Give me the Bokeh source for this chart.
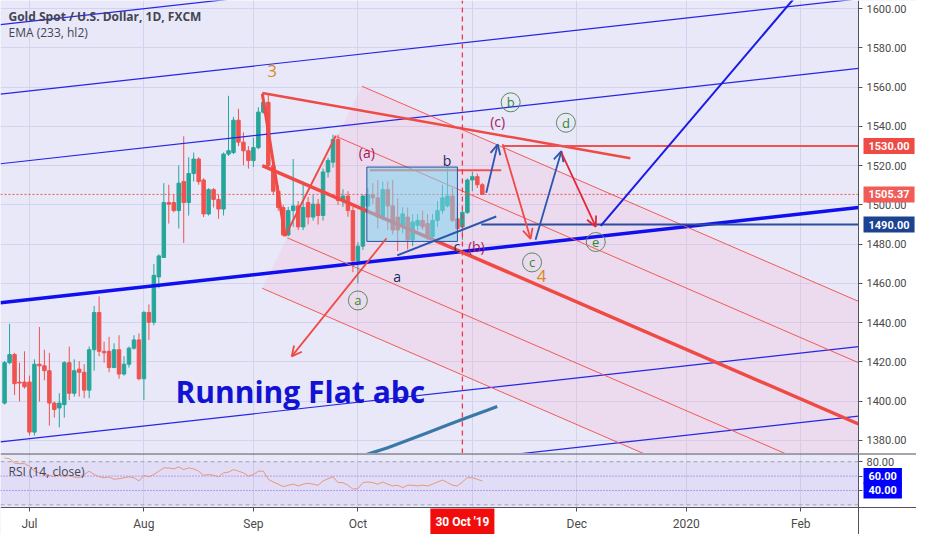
from bokeh.plotting import figure
from bokeh.models import (Range1d, FixedTicker, NumeralTickFormatter, Label, Arrow,
                          OpenHead, Span, ColumnDataSource, Grid, BoxAnnotation, LinearAxis)
from bokeh.layouts import column
from bokeh.embed import file_html
from bokeh.resources import INLINE
from bokeh.core.properties import value

# ---------------- data (bar index 0 = 1 Jul 2019, trading days) ----------------
bar_index = list(range(-5, 92))
open_ = [1399.0, 1419.6, 1423.7, 1409.7, 1409.7, 1409.7, 1384.2, 1418.8, 1418.0, 1415.5,
         1399.0, 1396.5, 1398.2, 1419.6, 1404.0, 1416.3, 1414.7, 1405.6, 1426.2, 1445.2,
         1425.4, 1425.4, 1417.1, 1426.2, 1413.8, 1418.8, 1427.0, 1431.2, 1411.4, 1445.2,
         1440.2, 1463.3, 1473.2, 1501.2, 1501.2, 1497.1, 1511.9, 1501.2, 1516.0, 1523.4,
         1512.7, 1495.4, 1507.8, 1502.8, 1497.9, 1525.9, 1526.7, 1543.2, 1532.0, 1527.6,
         1522.6, 1529.2, 1547.3, 1552.3, 1520.0, 1507.0, 1498.7, 1484.7, 1497.1, 1499.5,
         1488.8, 1501.2, 1493.8, 1500.4, 1494.6, 1516.8, 1521.8, 1533.3, 1502.3, 1504.5,
         1497.1, 1471.5, 1479.0, 1499.5, 1505.3, 1503.6, 1493.8, 1507.8, 1499.5, 1493.8,
         1488.8, 1493.8, 1482.2, 1489.6, 1492.1, 1490.5, 1483.9, 1492.1, 1497.1, 1499.5,
         1504.5, 1492.9, 1488.8, 1496.2, 1512.7, 1514.4, 1510.3]
high = [1420.4, 1439.4, 1424.6, 1419.6, 1425.4, 1413.0, 1421.3, 1437.8, 1426.2, 1424.6,
        1399.8, 1404.0, 1420.4, 1427.8, 1421.3, 1420.4, 1418.8, 1427.8, 1448.5, 1453.4,
        1430.3, 1432.8, 1429.5, 1433.6, 1422.9, 1427.8, 1433.6, 1434.5, 1446.0, 1449.3,
        1469.9, 1474.8, 1511.1, 1510.3, 1505.3, 1520.2, 1535.0, 1524.3, 1526.7, 1524.3,
        1513.6, 1508.6, 1508.6, 1505.3, 1526.7, 1555.6, 1544.9, 1549.0, 1537.0, 1530.0,
        1534.2, 1549.8, 1556.7, 1556.0, 1524.0, 1510.0, 1500.0, 1499.0, 1523.4, 1502.0,
        1511.9, 1504.0, 1505.0, 1503.0, 1518.5, 1524.0, 1535.8, 1535.8, 1508.0, 1507.0,
        1499.0, 1481.0, 1505.3, 1508.6, 1511.1, 1512.7, 1511.9, 1511.9, 1512.7, 1503.6,
        1498.7, 1498.7, 1495.4, 1495.4, 1497.1, 1495.4, 1495.4, 1502.0, 1510.3, 1518.5,
        1508.6, 1498.7, 1498.7, 1513.6, 1516.9, 1516.0, 1511.1]
low = [1398.2, 1418.8, 1403.1, 1399.8, 1406.4, 1382.5, 1382.5, 1399.8, 1410.6, 1387.5,
       1391.6, 1386.6, 1391.6, 1400.6, 1402.3, 1402.3, 1401.5, 1401.5, 1415.5, 1422.9,
       1419.6, 1414.7, 1417.1, 1411.4, 1413.0, 1417.1, 1426.2, 1410.6, 1400.6, 1431.2,
       1438.6, 1457.5, 1473.2, 1490.5, 1496.2, 1488.0, 1480.6, 1494.6, 1511.9, 1510.3,
       1493.8, 1494.6, 1498.7, 1492.9, 1494.6, 1525.0, 1525.9, 1530.0, 1520.2, 1518.5,
       1519.3, 1528.4, 1546.5, 1518.0, 1505.0, 1497.0, 1484.0, 1484.0, 1488.8, 1487.2,
       1487.2, 1490.0, 1492.0, 1490.0, 1492.0, 1514.0, 1519.0, 1500.0, 1499.0, 1494.0,
       1465.7, 1460.0, 1477.0, 1496.2, 1500.4, 1488.0, 1492.1, 1487.2, 1485.0, 1476.5,
       1485.5, 1477.3, 1479.0, 1487.2, 1487.2, 1482.2, 1482.2, 1488.8, 1495.4, 1498.7,
       1491.3, 1487.2, 1482.2, 1495.4, 1507.0, 1508.6, 1505.0]
close = [1419.6, 1423.7, 1408.9, 1409.2, 1407.3, 1384.2, 1418.8, 1418.0, 1415.5, 1399.0,
         1395.7, 1399.0, 1419.6, 1404.0, 1415.5, 1414.7, 1405.6, 1426.2, 1445.2, 1425.4,
         1424.6, 1417.1, 1426.2, 1413.8, 1418.8, 1427.0, 1431.2, 1411.4, 1445.2, 1440.2,
         1464.1, 1474.0, 1501.2, 1500.4, 1497.1, 1511.1, 1501.2, 1516.0, 1523.4, 1511.9,
         1495.4, 1507.8, 1502.8, 1497.9, 1525.9, 1527.6, 1543.2, 1532.0, 1527.6, 1522.6,
         1529.2, 1547.3, 1552.3, 1520.0, 1507.0, 1498.7, 1484.7, 1497.1, 1499.5, 1488.8,
         1498.7, 1493.8, 1500.4, 1494.6, 1516.8, 1522.6, 1533.3, 1502.3, 1504.5, 1497.1,
         1471.5, 1479.0, 1504.5, 1505.3, 1503.6, 1493.8, 1507.8, 1499.5, 1487.2, 1487.2,
         1495.4, 1482.2, 1491.3, 1492.1, 1488.8, 1483.9, 1492.1, 1497.1, 1503.6, 1504.5,
         1492.1, 1488.0, 1496.2, 1512.7, 1514.4, 1510.3, 1505.37]
rsi = [85, 84.2, 78, 77.3, 77.3, 73.6, 66.8, 64.5, 62.3, 61,
       59, 62.3, 59, 61, 58.6, 57.7, 62.3, 66.8, 62.3, 59,
       57.7, 58.6, 55.5, 56.3, 57.7, 59, 57.7, 53.2, 61, 59,
       62.3, 66.8, 71.3, 71.3, 70, 72.7, 69.1, 71.3, 70, 66.8,
       61, 62.3, 61, 59, 64.5, 65.5, 69.1, 66.8, 64.5, 60,
       62.3, 66.8, 66.8, 55.5, 51.8, 48.7, 45.4, 47.3, 48.7, 46.3,
       48.7, 50, 48.7, 47.3, 53.2, 56.3, 59, 50.9, 50.9, 47.3,
       41.8, 42.7, 50.9, 51.8, 50.9, 48.7, 51.8, 48.7, 46.3, 47.3,
       44, 47.3, 47.3, 46.3, 47.3, 46.3, 48.7, 51.8, 54.5, 50.9,
       47.3, 46.3, 51.8, 57.7, 57.7, 55.5, 53.2]
ema_bar = [66, 68, 72, 76, 80, 84, 88, 92, 94]
ema_val = [1371.0, 1373.0, 1376.2, 1380.1, 1383.9, 1387.8, 1391.7, 1395.4, 1397.3]

month_ticks = [0, 23, 45, 66, 110, 132, 155]
month_labels = ["Jul", "Aug", "Sep", "Oct", "Dec", "2020", "Feb"]
grid_ticks = [0, 23, 45, 66, 89, 110, 132, 155]
price_ticks = [1380, 1400, 1420, 1440, 1460, 1480, 1500, 1520, 1540, 1560, 1580, 1600]
rsi_ticks = [80, 60, 40]

last_price = 1505.37
level_hi = 1530.0
level_lo = 1490.0
cursor_bar = 87

# visible window
X0, X1 = -5.82, 166.6          # chart area in bars
P0, P1 = 1373.3, 1604.2        # price pane
R0, R1 = 16.3, 91.4            # RSI pane

# ---------------- drawings (bar, price anchors) ----------------
channel_thin = [((X0, 1591.9), (X1, 1640.49)), ((X0, 1556.45), (X1, 1605.04)),
                ((X0, 1521.0), (X1, 1569.59)), ((X0, 1379.2), (X1, 1427.79)),
                ((X0, 1343.75), (X1, 1392.34))]
channel_mid = ((X0, 1450.1), (X1, 1498.69))
fork_thin = [((66.82, 1560.5), (X1, 1450.84)), ((61.81, 1534.75), (X1, 1419.58)),
             ((51.8, 1483.25), (X1, 1357.09)), ((46.79, 1457.5), (X1, 1325.83))]
fork_median = ((46.79, 1520.0), (X1, 1388.33))
fork_area_x = [66.82, X1, X1, 46.79]
fork_area_y = [1560.5, 1450.84, 1325.83, 1457.5]
peak_trend = ((46.79, 1557.0), (120.75, 1523.8))
wave_down = ((46.79, 1556.7), (51.38, 1484.0))
wave_up = ((51.38, 1484.0), (61.57, 1535.3))
b_level = ((68.4, 1517.7), (94.8, 1517.7))
box_rect = (67.8, 86.0, 1481.4, 1519.3)
blue_a_line = ((73.9, 1474.3), (93.8, 1494.1))
big_blue = ((114.8, 1489.3), (156.0, 1612.3))
arrows = [((71.75, 1483.0), (52.7, 1422.8), "#f04a45"),
          ((91.8, 1506.2), (94.1, 1530.9), "#2b56b0"),
          ((95.1, 1530.9), (100.7, 1482.7), "#f04a45"),
          ((101.7, 1482.2), (106.9, 1527.4), "#2b56b0"),
          ((106.9, 1526.7), (113.8, 1488.9), "#e0283a")]
wave_text = ["3", "4"]
wave_x = [48.76, 102.9]
wave_y = [1568.1, 1463.7]
sub_text = ["(a)", "(c)", "(b)"]
sub_x = [67.8, 94.1, 89.8]
sub_y = [1526.7, 1542.4, 1479.0]
abc_text = ["b", "c", "a"]
abc_x = [83.9, 85.9, 73.9]
abc_y = [1522.6, 1479.0, 1463.6]
circ_text = ["a", "b", "c", "d", "e"]
circ_x = [66.0, 96.7, 101.0, 107.8, 113.8]
circ_y = [1451.3, 1552.3, 1470.7, 1541.9, 1481.1]

# ---------------- style ----------------
BG = "#e8e8f9"
GRID = "#d3d3ee"
UP = "#26a69a"
DOWN = "#ef5350"
AXC = "#50535e"
TXT = "#4a4a4a"
FONT = "Open Sans"
FW, HM, HR, RB, BB = 858, 453, 54, 58, 27
FULLW = FW + RB
XEND = X1 + RB * (X1 - X0) / FW           # right price-scale column, same scale
REND = R0 - BB * (R1 - R0) / HR           # time-scale strip below RSI, same scale

xr = Range1d(X0, XEND)


def style_axis(a, size="11px"):
    a.major_label_text_font = "Roboto"
    a.major_label_text_font_size = size
    a.major_label_text_color = TXT
    a.major_tick_out = 4
    a.major_tick_in = 0
    a.minor_tick_out = 0
    a.minor_tick_in = 0
    a.axis_line_color = AXC
    a.major_tick_line_color = AXC
    a.major_label_standoff = 4


def tag(fig, y, text, color, pad=(5, 4), size="11px"):
    fig.add_layout(Label(x=X1, y=y, text=text, x_offset=5, text_align="left",
                         text_baseline="middle", text_color="white", text_font="Roboto",
                         text_font_size=size, text_font_style="bold",
                         background_fill_color=color, padding=pad))


p = figure(x_range=xr, y_range=Range1d(P0, P1), frame_width=FULLW, frame_height=HM,
           x_axis_location=None, y_axis_location=None, toolbar_location=None,
           output_backend="svg", background_fill_color=BG, border_fill_color="white",
           outline_line_color=None, min_border_left=0, min_border_right=0,
           min_border_top=0, min_border_bottom=0)
p.grid.visible = False
p.add_layout(Grid(dimension=0, ticker=FixedTicker(ticks=grid_ticks), grid_line_color=GRID))
p.add_layout(Grid(dimension=1, ticker=FixedTicker(ticks=price_ticks), grid_line_color=GRID))
p.add_layout(BoxAnnotation(left=X1, fill_color="white", fill_alpha=1.0, line_color=None,
                           level="underlay"))

ax = LinearAxis(fixed_location=X1, ticker=FixedTicker(ticks=price_ticks),
                formatter=NumeralTickFormatter(format="0.00"))
style_axis(ax)
p.add_layout(ax, "right")

# pitchfork shading
p.patch(fork_area_x, fork_area_y, fill_color="#ffa8c4", fill_alpha=0.2, line_color=None)

# candles
src = ColumnDataSource(dict(
    x=bar_index, o=open_, h=high, l=low, c=close,
    top=[max(a, b) for a, b in zip(open_, close)],
    bot=[min(a, b) for a, b in zip(open_, close)],
    col=[UP if c >= o else DOWN for o, c in zip(open_, close)]))
p.segment(x0="x", y0="h", x1="x", y1="l", color="col", line_width=1, source=src)
p.vbar(x="x", top="top", bottom="bot", width=0.7, fill_color="col", line_color="col",
       source=src)

# EMA
p.line(ema_bar, ema_val, line_color="#3a78a8", line_width=3.2)

# blue channel
for (a, b) in channel_thin:
    p.line([a[0], b[0]], [a[1], b[1]], line_color="#2626e4", line_width=1.2)
p.line([channel_mid[0][0], channel_mid[1][0]], [channel_mid[0][1], channel_mid[1][1]],
       line_color="#0f0ff0", line_width=3.5)

# pitchfork lines
for (a, b) in fork_thin:
    p.line([a[0], b[0]], [a[1], b[1]], line_color="#f25a55", line_width=1)
p.line([fork_median[0][0], fork_median[1][0]], [fork_median[0][1], fork_median[1][1]],
       line_color="#f04a45", line_width=3.5)

# red wave lines
p.line([peak_trend[0][0], peak_trend[1][0]], [peak_trend[0][1], peak_trend[1][1]],
       line_color="#f04a45", line_width=2.5)
p.line([wave_down[0][0], wave_down[1][0]], [wave_down[0][1], wave_down[1][1]],
       line_color="#f04a45", line_width=3)
p.line([wave_up[0][0], wave_up[1][0]], [wave_up[0][1], wave_up[1][1]],
       line_color="#f04a45", line_width=2)

# levels
p.line([X0, X1], [last_price, last_price], line_color="#ef5350", line_width=1,
       line_dash="2 2")
p.line([90.8, X1], [level_lo, level_lo], line_color="#2b4f9e", line_width=2)
p.line([95.1, X1], [level_hi, level_hi], line_color="#f0534f", line_width=2)
p.line([b_level[0][0], b_level[1][0]], [b_level[0][1], b_level[1][1]],
       line_color="#f0534f", line_width=2)

# rectangle
p.quad(left=[box_rect[0]], right=[box_rect[1]], bottom=[box_rect[2]], top=[box_rect[3]],
       fill_color="#7fd4ee", fill_alpha=0.55, line_color="#2a4f9a", line_width=1)

# blue lines
p.line([blue_a_line[0][0], blue_a_line[1][0]], [blue_a_line[0][1], blue_a_line[1][1]],
       line_color="#2b56b0", line_width=2)
p.line([big_blue[0][0], big_blue[1][0]], [big_blue[0][1], big_blue[1][1]],
       line_color="#1a1ae6", line_width=2)

for (a, b, colr) in arrows:
    p.add_layout(Arrow(end=OpenHead(size=10, line_color=colr, line_width=1.8),
                       x_start=a[0], y_start=a[1], x_end=b[0], y_end=b[1],
                       line_color=colr, line_width=1.8))

p.line([cursor_bar, cursor_bar], [P0, P1], line_color="#f23645", line_dash="5 4",
       line_width=1.3)

# texts
p.text(wave_x, wave_y, text=wave_text, text_font=value(FONT), text_font_size="17px",
       text_color="#d98a1c", text_align="center", text_baseline="middle")
p.text(sub_x, sub_y, text=sub_text, text_font=value(FONT), text_font_size="14px",
       text_color="#a8175a", text_align="center", text_baseline="middle")
p.text(abc_x, abc_y, text=abc_text, text_font=value(FONT), text_font_size="14px",
       text_color="#1b2a5c", text_align="center", text_baseline="middle")
p.scatter(circ_x, circ_y, marker="circle", size=19, fill_color=None,
          line_color="#5b8a5b", line_width=1)
p.text(circ_x, circ_y, text=circ_text, text_font=value(FONT), text_font_size="13px",
       text_color="#2e8b2e", text_align="center", text_baseline="middle")
p.text([29.35], [1404.9], text=["Running Flat abc"], text_font=value(FONT),
       text_font_size="30px", text_font_style="bold", text_color="#1212d2",
       text_align="left", text_baseline="alphabetic")

p.add_layout(Label(x=X0, y=P1, x_offset=8, y_offset=-16,
                   text="Gold Spot / U.S. Dollar, 1D, FXCM", text_font=FONT,
                   text_font_size="12px", text_font_style="bold", text_color="#434651",
                   text_baseline="middle"))
p.add_layout(Label(x=X0, y=P1, x_offset=8, y_offset=-32,
                   text="EMA (233, hl2)", text_font=FONT, text_font_size="12px",
                   text_color="#434651", text_baseline="middle"))

tag(p, level_hi, "1530.00", "#f04a45")
tag(p, last_price, "1505.37", "#f25c58")
tag(p, level_lo, "1490.00", "#1c4292")

# ---------------- RSI pane + time scale ----------------
r = figure(x_range=xr, y_range=Range1d(REND, R1), frame_width=FULLW, frame_height=HR + BB,
           x_axis_location=None, y_axis_location=None, toolbar_location=None,
           output_backend="svg", background_fill_color=BG, border_fill_color="white",
           outline_line_color=None, min_border_left=0, min_border_right=0,
           min_border_top=0, min_border_bottom=0)
r.grid.visible = False
r.add_layout(Grid(dimension=0, ticker=FixedTicker(ticks=grid_ticks), grid_line_color=GRID))
r.add_layout(BoxAnnotation(left=X1, fill_color="white", fill_alpha=1.0, line_color=None,
                           level="underlay"))
r.add_layout(BoxAnnotation(top=R0, fill_color="white", fill_alpha=1.0, line_color=None,
                           level="underlay"))
r.add_layout(BoxAnnotation(bottom=20, top=80, right=X1, fill_color="#a070e8",
                           fill_alpha=0.09, line_color=None))
r.line([X0, X1], [80, 80], line_color="#a4a4b0", line_dash="4 3", line_width=1)
r.line([X0, X1], [20, 20], line_color="#a4a4b0", line_dash="4 3", line_width=1)
r.line([X0, X1], [60, 60], line_color="#7a5ce0", line_dash="1 2", line_width=1)
r.line([X0, X1], [40, 40], line_color="#7a5ce0", line_dash="1 2", line_width=1)
r.line(bar_index, rsi, line_color="#f29b6c", line_width=1)
r.add_layout(Span(location=R1, dimension="width", line_color=AXC, line_width=2))

ry = LinearAxis(fixed_location=X1, ticker=FixedTicker(ticks=rsi_ticks),
                formatter=NumeralTickFormatter(format="0.00"))
style_axis(ry)
r.add_layout(ry, "right")

rx = LinearAxis(fixed_location=R0, ticker=FixedTicker(ticks=month_ticks),
                major_label_overrides={t: s for t, s in zip(month_ticks, month_labels)})
style_axis(rx, "12px")
rx.major_label_standoff = 5
r.add_layout(rx, "below")

r.add_layout(Label(x=X0, y=66.8, x_offset=8, text="RSI (14, close)", text_font=FONT,
                   text_font_size="12px", text_color="#434651", text_baseline="middle"))
tag(r, 60, "60.00", "#0000ff", pad=(5, 4))
tag(r, 40, "40.00", "#0000ff", pad=(5, 4))
r.add_layout(Label(x=cursor_bar, y=R0, y_offset=-14, text="30 Oct '19", text_align="center",
                   text_baseline="middle", text_color="white", text_font="Roboto",
                   text_font_size="12px", text_font_style="bold",
                   background_fill_color="#f20d0d", padding=(5, 6)))

layout = column(p, r, spacing=0)
open("out.html", "w").write(file_html(layout, INLINE))
